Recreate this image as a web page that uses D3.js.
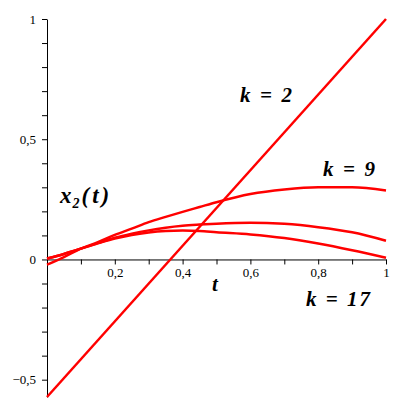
<!DOCTYPE html>
<html>
<head>
<meta charset="utf-8">
<script src="https://cdn.jsdelivr.net/npm/d3@7"></script>
<style>
  body { margin: 0; background: #fff; }
  svg { display: block; }
</style>
</head>
<body>
<div id="chart"></div>
<script>
// global variables
var width = 406;
var height = 415;
var serif = "Liberation Serif";

// data
var tValues = [0, 0.05, 0.1, 0.15, 0.2, 0.25, 0.3, 0.35, 0.4, 0.45, 0.5, 0.6, 0.7, 0.8, 0.9, 1.0];
var k9Values = [-0.022, 0.01, 0.045, 0.072, 0.102, 0.128, 0.155, 0.177, 0.198, 0.218, 0.238, 0.272, 0.291, 0.300, 0.300, 0.287];
var midValues = [0.004, 0.023, 0.045, 0.068, 0.090, 0.107, 0.121, 0.132, 0.140, 0.145, 0.149, 0.153, 0.148, 0.134, 0.113, 0.078];
var k17Values = [0.004, 0.023, 0.045, 0.067, 0.087, 0.102, 0.112, 0.118, 0.120, 0.118, 0.113, 0.104, 0.089, 0.066, 0.038, 0.007];
var k2T = [0, 1];
var k2Values = [-0.572, 1.0];

var xTicks = [0.1, 0.2, 0.3, 0.4, 0.5, 0.6, 0.7, 0.8, 0.9, 1];
var xLabels = { 0.2: "0,2", 0.4: "0,4", 0.6: "0,6", 0.8: "0,8", 1: "1" };
var yTicks = [-0.5, -0.4, -0.3, -0.2, -0.1, 0, 0.1, 0.2, 0.3, 0.4, 0.5, 0.6, 0.7, 0.8, 0.9, 1];
var yLabels = { "-0.5": "\u22120,5", "0": "0", "0.5": "0,5", "1": "1" };

var svg = d3.select("#chart")
            .append("svg")
            .attr("width", width)
            .attr("height", height);

var x = d3.scaleLinear().domain([0, 1]).range([47, 386]);
var y = d3.scaleLinear().domain([-0.572, 1]).range([397, 19]);

// axes through the origin
svg.append("g")
   .attr("transform", "translate(0," + y(0) + ")")
   .call(d3.axisBottom(x)
           .tickValues(xTicks)
           .tickSizeInner(5)
           .tickSizeOuter(0)
           .tickFormat(function(d) { return xLabels[d] || ""; }))
   .attr("font-family", serif)
   .attr("font-size", 13)
   .call(function(g) {
       g.select(".domain").attr("stroke", "#000");
       g.selectAll(".tick line").attr("stroke", "#000");
       g.selectAll(".tick text").attr("fill", "#000");
   });

svg.append("g")
   .attr("transform", "translate(" + x(0) + ",0)")
   .call(d3.axisLeft(y)
           .tickValues(yTicks)
           .tickSizeInner(5)
           .tickSizeOuter(0)
           .tickFormat(function(d) { return yLabels[String(+d.toFixed(1))] || ""; }))
   .attr("font-family", serif)
   .attr("font-size", 13)
   .call(function(g) {
       g.select(".domain").attr("stroke", "#000");
       g.selectAll(".tick line").attr("stroke", "#000");
       g.selectAll(".tick text").attr("x", -11).attr("fill", "#000");
   });

// curves
var curve = d3.line()
              .x(function(d) { return x(d[0]); })
              .y(function(d) { return y(d[1]); })
              .curve(d3.curveMonotoneX);

[[tValues, k9Values], [tValues, midValues], [tValues, k17Values], [k2T, k2Values]].forEach(function(s) {
    svg.append("path")
       .datum(d3.zip(s[0], s[1]))
       .attr("d", curve)
       .attr("fill", "none")
       .attr("stroke", "#ff0000")
       .attr("stroke-width", 2.5);
});

// annotations
function note(txt, px, py, len, size) {
    var t = svg.append("text")
               .attr("x", px)
               .attr("y", py)
               .attr("font-family", serif)
               .attr("font-style", "italic")
               .attr("font-weight", "bold")
               .attr("font-size", size || 21)
               .attr("fill", "#000")
               .text(txt);
    if (len) t.attr("textLength", len).attr("lengthAdjust", "spacing");
    return t;
}

note("k = 2", 240, 102, 52);
note("k = 9", 323, 176, 52);
note("k = 17", 306, 306, 64);
note("t", 212, 291);

var xt = note("", 60, 203, null, 23);
xt.append("tspan").text("x");
xt.append("tspan").attr("font-size", 14).attr("dy", 5).attr("dx", 1).text("2");
xt.append("tspan").attr("dy", -5).attr("dx", 2).attr("letter-spacing", 3).text("(t)");
</script>
</body>
</html>
